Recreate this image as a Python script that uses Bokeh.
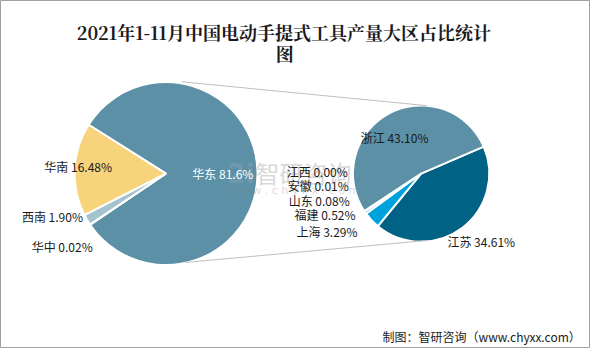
import numpy as np
from bokeh.plotting import figure
from bokeh.models import Range1d, ColumnDataSource
from bokeh.core.properties import value
from bokeh.embed import file_html
from bokeh.resources import INLINE

# ---- data ----
title_line1 = "2021年1-11月中国电动手提式工具产量大区占比统计"
title_line2 = "图"
big_labels = ["华东", "华南", "西南", "华中"]
big_values = [81.6, 16.48, 1.90, 0.02]
big_texts = ["华东 81.6%", "华南 16.48%", "西南 1.90%", "华中 0.02%"]
big_colors = ["#5B90A6", "#F7D37C", "#A5C3CF", "#C9DCE4"]

small_labels = ["江苏", "上海", "福建", "山东", "安徽", "江西", "浙江"]
small_values = [34.61, 3.29, 0.52, 0.08, 0.01, 0.00, 43.10]
small_texts = ["江苏 34.61%", "上海 3.29%", "福建 0.52%", "山东 0.08%",
               "安徽 0.01%", "江西 0.00%", "浙江 43.10%"]
small_colors = ["#006284", "#00A2DB", "#7FC8E6", "#B7DDEE", "#D6EAF3", "#E6F1F6", "#5B90A6"]

source_note = "制图：智研咨询（www.chyxx.com）"

# ---- layout (reference pixel coordinates, y downward) ----
W, H = 590, 348
RW, RH = 606, 364
def Y(py):
    return RH - py

FONT = value("Noto Sans CJK SC")

p = figure(width=W, height=H, output_backend="svg", toolbar_location=None,
           x_range=Range1d(0, RW), y_range=Range1d(0, RH),
           min_border=0)
p.axis.visible = False
p.grid.visible = False
p.outline_line_color = "#A0A0A0"
p.outline_line_width = 1
p.background_fill_color = "white"

# big pie (anticlockwise from the lower-left edge of 华东)
bcx, bcy, br = 170, 181, 94
big_start = -146.0
ang = np.array(big_values) * 3.6
cum = np.concatenate([[0], np.cumsum(ang)[:-1]])
b_start = big_start + cum
b_end = b_start + ang
bsrc = ColumnDataSource(dict(start=np.radians(b_start), end=np.radians(b_end),
                             color=big_colors, label=big_labels))
p.wedge(x=bcx, y=Y(bcy), radius=br, start_angle="start", end_angle="end",
        fill_color="color", line_color="white", line_width=2, source=bsrc)

# small pie (clockwise from the upper-right edge of 江苏)
scx, scy, sr = 432, 181, 70
small_start = 23.3
stotal = sum(small_values)
sang = np.array(small_values) * 360.0 / stotal
scum = np.concatenate([[0], np.cumsum(sang)[:-1]])
s_end = small_start - scum
s_start = s_end - sang
keep = sang > 0
ssrc = ColumnDataSource(dict(start=np.radians(s_start[keep]), end=np.radians(s_end[keep]),
                             color=[c for c, k in zip(small_colors, keep) if k],
                             label=[l for l, k in zip(small_labels, keep) if k]))
p.wedge(x=scx, y=Y(scy), radius=sr, start_angle="start", end_angle="end",
        fill_color="color", line_color="white", line_width=2, source=ssrc)

# connector lines
p.segment(x0=[186, 190], y0=[Y(85), Y(274)], x1=[438, 438], y1=[Y(110), Y(251)],
          line_color="#BFBFBF", line_width=1)

# watermark
p.text(x=[233], y=[Y(181)], text=["2i"], text_font=value("DejaVu Sans"),
       text_font_size="26px", text_font_style="bold", text_color="#9AA6B2",
       text_alpha=0.35, text_baseline="middle")
p.text(x=[262], y=[Y(180)], text=["智研咨询"], text_font=FONT,
       text_font_size="24px", text_color="#8C8C8C", text_alpha=0.35,
       text_baseline="middle")
p.text(x=[233], y=[Y(199)], text=["w w w . c h y x x . c o m"], text_font=value("DejaVu Sans"),
       text_font_size="11px", text_color="#8C8C8C", text_alpha=0.35,
       text_baseline="middle")

# big pie labels
big_lx = [197, 45, 22, 32]
big_ly = [181, 174, 226, 257]
big_tc = ["white", "#1A1A1A", "#1A1A1A", "#1A1A1A"]
p.text(x=big_lx, y=[Y(v) for v in big_ly], text=big_texts, text_font=FONT,
       text_font_size="12px", text_color=big_tc, text_baseline="middle")

# small pie labels
small_lx = [459, 304, 302, 296, 295, 294, 370]
small_ly = [252, 242, 224, 209, 193, 179, 143]
p.text(x=small_lx, y=[Y(v) for v in small_ly], text=small_texts, text_font=FONT,
       text_font_size="12px", text_color="#1A1A1A", text_baseline="middle")

# title
p.text(x=[291, 292], y=[Y(33), Y(55)], text=[title_line1, title_line2],
       text_font=value("Noto Serif CJK SC"), text_font_size="18px",
       text_font_style="bold", text_color="#1A1A1A",
       text_align="center", text_baseline="middle")

# source note
p.text(x=[596], y=[Y(351)], text=[source_note], text_font=FONT,
       text_font_size="12px", text_color="#1A1A1A",
       text_align="right", text_baseline="middle")

open("out.html", "w").write(file_html(p, INLINE))
